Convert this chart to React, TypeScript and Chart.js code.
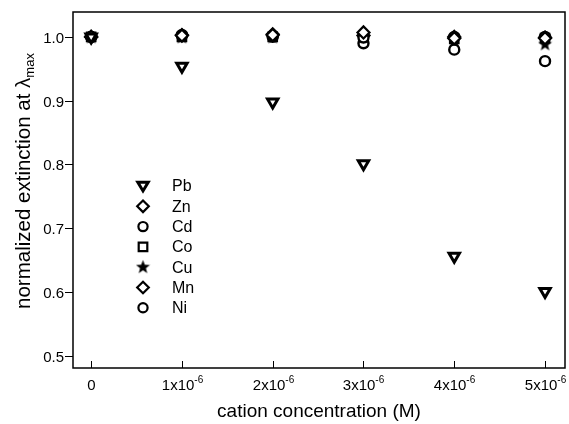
import React, { useEffect, useRef } from 'react';
import { Chart, registerables } from 'chart.js';

Chart.register(...registerables);

const concentrations = [0, 1e-6, 2e-6, 3e-6, 4e-6, 5e-6];
const pbValues = [1.0, 0.954, 0.898, 0.801, 0.656, 0.601];
const znValues = [1.0, 1.002, 1.003, 1.007, 0.998, 0.998];
const cdValues = [1.0, 1.003, 1.002, 0.999, 1.0, 1.0];
const coValues = [1.0, 1.0, 1.0, 1.0, 0.997, 0.998];
const cuValues = [1.0, 1.0, 1.0, 1.0, 0.995, 0.989];
const mnValues = [1.0, 1.003, 1.004, 1.002, 1.0, 0.999];
const niValues = [1.0, 1.002, 1.0, 0.99, 0.98, 0.962];
const seriesNames = ['Pb', 'Zn', 'Cd', 'Co', 'Cu', 'Mn', 'Ni'];
const yTickValues = [0.5, 0.6, 0.7, 0.8, 0.9, 1.0];
const xTickMantissas = ['0', '1', '2', '3', '4', '5'];
const xTickExponent = '-6';

const FONT = '"Liberation Sans", Arial, Helvetica, sans-serif';

function makeStar(): HTMLCanvasElement {
  const c = document.createElement('canvas');
  c.width = 15;
  c.height = 15;
  const g = c.getContext('2d')!;
  g.fillStyle = '#000';
  g.beginPath();
  const cx = 7.5, cy = 8, ro = 7.3, ri = 3.1;
  for (let i = 0; i < 10; i++) {
    const r = i % 2 === 0 ? ro : ri;
    const a = -Math.PI / 2 + (i * Math.PI) / 5;
    const px = cx + r * Math.cos(a);
    const py = cy + r * Math.sin(a);
    if (i === 0) g.moveTo(px, py);
    else g.lineTo(px, py);
  }
  g.closePath();
  g.fill();
  return c;
}

function drawMarker(ctx: CanvasRenderingContext2D, kind: string, x: number, y: number, star: HTMLCanvasElement) {
  ctx.save();
  ctx.strokeStyle = '#000';
  ctx.fillStyle = '#fff';
  ctx.beginPath();
  if (kind === 'tri') {
    ctx.lineWidth = 3;
    const r = 5.2;
    ctx.moveTo(x - r, y - r * 0.7);
    ctx.lineTo(x + r, y - r * 0.7);
    ctx.lineTo(x, y + r * 0.95);
    ctx.closePath();
    ctx.fill();
    ctx.stroke();
  } else if (kind === 'diamond') {
    ctx.lineWidth = 2.2;
    const r = 5.8;
    ctx.moveTo(x, y - r);
    ctx.lineTo(x + r, y);
    ctx.lineTo(x, y + r);
    ctx.lineTo(x - r, y);
    ctx.closePath();
    ctx.fill();
    ctx.stroke();
  } else if (kind === 'circle') {
    ctx.lineWidth = 2.2;
    ctx.arc(x, y, 4.6, 0, Math.PI * 2);
    ctx.fill();
    ctx.stroke();
  } else if (kind === 'square') {
    ctx.lineWidth = 2.2;
    ctx.rect(x - 4.3, y - 4.3, 8.6, 8.6);
    ctx.fill();
    ctx.stroke();
  } else if (kind === 'star') {
    ctx.drawImage(star, x - 7.5, y - 8);
  }
  ctx.restore();
}

export default function App() {
  const ref = useRef<HTMLCanvasElement>(null);

  useEffect(() => {
    const canvas = ref.current!;
    const star = makeStar();
    const kinds = ['tri', 'diamond', 'circle', 'square', 'star', 'diamond', 'circle'];
    const values = [pbValues, znValues, cdValues, coValues, cuValues, mnValues, niValues];

    const styleFor = (k: string): any => {
      if (k === 'tri') return { pointStyle: 'triangle', rotation: 180, radius: 6, borderWidth: 3 };
      if (k === 'diamond') return { pointStyle: 'rectRot', rotation: 0, radius: 6, borderWidth: 2.2 };
      if (k === 'circle') return { pointStyle: 'circle', rotation: 0, radius: 5, borderWidth: 2.4 };
      if (k === 'square') return { pointStyle: 'rect', rotation: 0, radius: 6, borderWidth: 2.2 };
      return { pointStyle: star, rotation: 0, radius: 7.5, borderWidth: 0 };
    };

    const datasets = seriesNames.map((name, i) => {
      const s = styleFor(kinds[i]);
      return {
        label: name,
        data: concentrations.map((c, j) => ({ x: c, y: values[i][j] })),
        showLine: false,
        clip: false,
        pointStyle: s.pointStyle,
        rotation: s.rotation,
        pointRadius: s.radius,
        pointHoverRadius: s.radius,
        pointBorderWidth: s.borderWidth,
        pointBorderColor: '#000',
        pointBackgroundColor: '#fff',
      };
    });

    const overlay = {
      id: 'overlay',
      afterDraw(chart: any) {
        const ctx: CanvasRenderingContext2D = chart.ctx;
        const a = chart.chartArea;
        const xs = chart.scales.x;
        const ys = chart.scales.y;
        ctx.save();
        // frame
        ctx.strokeStyle = '#000';
        ctx.lineWidth = 1.5;
        ctx.strokeRect(a.left, a.top, a.right - a.left, a.bottom - a.top);
        // y ticks
        ctx.lineWidth = 1;
        ctx.fillStyle = '#000';
        ctx.font = `15px ${FONT}`;
        ctx.textAlign = 'right';
        ctx.textBaseline = 'middle';
        yTickValues.forEach((v) => {
          const py = Math.round(ys.getPixelForValue(v)) + 0.5;
          ctx.beginPath();
          ctx.moveTo(a.left - 8, py);
          ctx.lineTo(a.left, py);
          ctx.stroke();
          ctx.fillText(v.toFixed(1), a.left - 9, py + 1);
        });
        // x ticks
        concentrations.forEach((c, i) => {
          const px = Math.round(xs.getPixelForValue(c)) + 0.5;
          ctx.beginPath();
          ctx.moveTo(px, a.bottom);
          ctx.lineTo(px, a.bottom - 7);
          ctx.stroke();
          const base = i === 0 ? xTickMantissas[i] : `${xTickMantissas[i]}x10`;
          ctx.font = `15px ${FONT}`;
          const wb = ctx.measureText(base).width;
          let ws = 0;
          if (i !== 0) {
            ctx.font = `10px ${FONT}`;
            ws = ctx.measureText(xTickExponent).width;
          }
          const start = px - (wb + ws) / 2;
          ctx.textAlign = 'left';
          ctx.textBaseline = 'alphabetic';
          ctx.font = `15px ${FONT}`;
          ctx.fillText(base, start, 390);
          if (i !== 0) {
            ctx.font = `10px ${FONT}`;
            ctx.fillText(xTickExponent, start + wb, 383);
          }
        });
        // x title
        ctx.font = `19px ${FONT}`;
        ctx.textAlign = 'center';
        ctx.textBaseline = 'alphabetic';
        ctx.fillText('cation concentration (M)', 319, 417);
        // y title
        ctx.save();
        ctx.translate(30, 181);
        ctx.rotate(-Math.PI / 2);
        const main = 'normalized extinction at λ';
        const sub = 'max';
        ctx.font = `20.5px ${FONT}`;
        const wm = ctx.measureText(main).width;
        ctx.font = `13px ${FONT}`;
        const wsub = ctx.measureText(sub).width;
        const st = -(wm + wsub) / 2;
        ctx.textAlign = 'left';
        ctx.font = `20.5px ${FONT}`;
        ctx.fillText(main, st, 0);
        ctx.font = `13px ${FONT}`;
        ctx.fillText(sub, st + wm, 4);
        ctx.restore();
        // legend
        ctx.font = `16px ${FONT}`;
        ctx.textAlign = 'left';
        ctx.textBaseline = 'middle';
        seriesNames.forEach((name, i) => {
          const ly = 186 + i * 20.3;
          drawMarker(ctx, kinds[i], 143, ly, star);
          ctx.fillStyle = '#000';
          ctx.fillText(name, 172, ly + 1);
        });
        ctx.restore();
      },
    };

    const chart = new Chart(canvas, {
      type: 'scatter',
      data: { datasets: datasets as any },
      options: {
        responsive: false,
        animation: false,
        devicePixelRatio: 1,
        layout: { autoPadding: false, padding: { left: 73, top: 12, right: 4, bottom: 56 } },
        plugins: { legend: { display: false }, tooltip: { enabled: false } },
        scales: {
          x: {
            type: 'linear',
            min: -0.2e-6,
            max: 5.22e-6,
            grid: { display: false, drawTicks: false },
            border: { display: false },
            ticks: { display: false },
            afterFit: (s: any) => { s.height = 0; },
          },
          y: {
            type: 'linear',
            min: 0.481,
            max: 1.039,
            grid: { display: false, drawTicks: false },
            border: { display: false },
            ticks: { display: false },
            afterFit: (s: any) => { s.width = 0; },
          },
        },
      },
      plugins: [overlay],
    });
    return () => chart.destroy();
  }, []);

  return (
    <div style={{ position: 'fixed', left: 0, top: 0, width: 569, height: 424, background: '#fff' }}>
      <canvas ref={ref} width={569} height={424} style={{ display: 'block' }} />
    </div>
  );
}
